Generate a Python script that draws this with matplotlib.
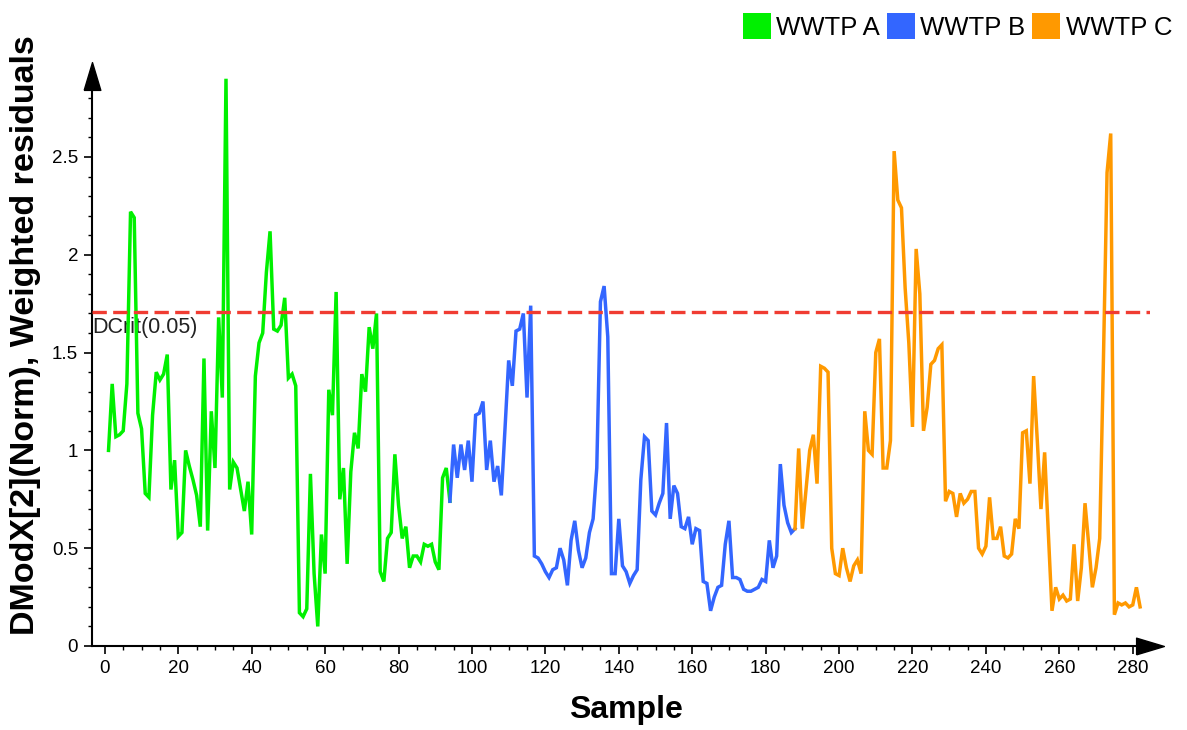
import numpy as np
import matplotlib
matplotlib.use("Agg")
import matplotlib.pyplot as plt
from matplotlib.patches import Patch
from matplotlib.path import Path
from matplotlib.ticker import MultipleLocator

plt.rcParams['font.family'] = ['Liberation Sans', 'DejaVu Sans']

# DModX values per plant, consecutive sample numbers
wwtp_a = [1.00, 1.34, 1.07, 1.08, 1.10, 1.34, 2.22, 2.19, 1.19, 1.11,
          0.78, 0.76, 1.18, 1.40, 1.36, 1.39, 1.49, 0.80, 0.95, 0.56,
          0.58, 1.00, 0.92, 0.85, 0.77, 0.61, 1.47, 0.59, 1.20, 0.91,
          1.68, 1.27, 2.90, 0.80, 0.94, 0.91, 0.80, 0.69, 0.84, 0.57,
          1.38, 1.55, 1.60, 1.91, 2.12, 1.62, 1.61, 1.64, 1.78, 1.37,
          1.39, 1.33, 0.17, 0.15, 0.19, 0.88, 0.37, 0.10, 0.57, 0.37,
          1.31, 1.18, 1.81, 0.75, 0.91, 0.42, 0.89, 1.09, 1.01, 1.39,
          1.30, 1.63, 1.52, 1.70, 0.38, 0.33, 0.55, 0.58, 0.98, 0.72,
          0.55, 0.61, 0.40, 0.46, 0.46, 0.43, 0.52, 0.51, 0.52, 0.43,
          0.39, 0.86, 0.91, 0.74]
wwtp_b = [1.03, 0.86, 1.03, 0.90, 1.05, 0.84, 1.18, 1.19, 1.25, 0.90,
          1.05, 0.84, 0.92, 0.77, 1.11, 1.46, 1.33, 1.61, 1.62, 1.70,
          1.27, 1.74, 0.46, 0.45, 0.42, 0.38, 0.35, 0.39, 0.40, 0.50,
          0.44, 0.31, 0.54, 0.64, 0.49, 0.40, 0.45, 0.58, 0.65, 0.91,
          1.76, 1.84, 1.58, 0.37, 0.37, 0.65, 0.41, 0.38, 0.32, 0.36,
          0.39, 0.85, 1.07, 1.05, 0.69, 0.67, 0.73, 0.78, 1.14, 0.65,
          0.82, 0.78, 0.61, 0.60, 0.66, 0.52, 0.60, 0.59, 0.33, 0.32,
          0.18, 0.25, 0.30, 0.31, 0.52, 0.64, 0.35, 0.35, 0.34, 0.29,
          0.28, 0.28, 0.29, 0.30, 0.34, 0.33, 0.54, 0.40, 0.46, 0.93,
          0.72, 0.63, 0.58, 0.60]
wwtp_c = [1.01, 0.60, 0.80, 1.00, 1.08, 0.83, 1.43, 1.42, 1.40, 0.50,
          0.37, 0.36, 0.50, 0.40, 0.33, 0.41, 0.44, 0.37, 1.20, 1.00,
          0.98, 1.50, 1.57, 0.91, 0.91, 1.05, 2.53, 2.28, 2.24, 1.83,
          1.55, 1.12, 2.03, 1.80, 1.10, 1.22, 1.44, 1.46, 1.52, 1.54,
          0.74, 0.79, 0.78, 0.66, 0.78, 0.73, 0.75, 0.79, 0.79, 0.50,
          0.47, 0.51, 0.76, 0.55, 0.55, 0.61, 0.46, 0.45, 0.47, 0.65,
          0.60, 1.09, 1.10, 0.83, 1.38, 1.05, 0.70, 0.99, 0.58, 0.18,
          0.30, 0.24, 0.26, 0.23, 0.24, 0.52, 0.23, 0.40, 0.73, 0.52,
          0.30, 0.40, 0.55, 1.45, 2.42, 2.62, 0.16, 0.22, 0.21, 0.22,
          0.20, 0.21, 0.30, 0.20]

series_names = ['WWTP A', 'WWTP B', 'WWTP C']
series_colors = ['#00f000', '#3366ff', '#ff9900']
d_crit = 1.71
d_crit_label = 'DCrit(0.05)'

W, H = 1187, 730
fig = plt.figure(figsize=(W / 100, H / 100), dpi=100)
ax = fig.add_axes([92 / W, 84 / H, (1150 - 92) / W, (646 - 76) / H])

# consecutive sample numbering, each block continues the previous one
series = [wwtp_a, wwtp_b, wwtp_c]
start = 1
prev_x, prev_y = None, None
for vals, col in zip(series, series_colors):
    x = np.arange(start, start + len(vals))
    y = np.asarray(vals)
    if prev_x is not None:
        x = np.concatenate([[prev_x], x])
        y = np.concatenate([[prev_y], y])
    ax.plot(x, y, color=col, lw=2.5, solid_joinstyle='miter', zorder=3)
    prev_x, prev_y = x[-1], y[-1]
    start += len(vals)

ax.axhline(d_crit, color='#f03c32', lw=2.4, dashes=(4.3, 1.9), zorder=4)
ax.text(-3.3, d_crit - 0.03, d_crit_label, ha='left', va='top',
        fontsize=15.5, color='#222222', zorder=2)

ax.set_xlim(-3.5, 284.7)
ax.set_ylim(0, 2.914)

ax.xaxis.set_major_locator(MultipleLocator(20))
ax.xaxis.set_minor_locator(MultipleLocator(5))
ax.yaxis.set_major_locator(MultipleLocator(0.5))
ax.yaxis.set_minor_locator(MultipleLocator(0.1))
ax.yaxis.set_major_formatter(plt.FuncFormatter(lambda v, p: f'{v:g}'))
ax.tick_params(axis='both', which='major', direction='out', length=6,
               width=1.2, labelsize=13.5, colors='black', pad=4)
ax.tick_params(axis='both', which='minor', direction='out', length=3,
               width=1.0)

for side in ('top', 'right'):
    ax.spines[side].set_visible(False)
for side in ('left', 'bottom'):
    ax.spines[side].set_linewidth(1.5)

# slender arrow heads at the ends of both axes
right_head = Path([(-1.0, -0.6), (1.0, 0.0), (-1.0, 0.6), (-1.0, -0.6)])
up_head = Path([(-0.6, -1.0), (0.0, 1.0), (0.6, -1.0), (-0.6, -1.0)])
ax.plot(1, 0, marker=right_head, color='black', markersize=20,
        transform=ax.transAxes, clip_on=False, zorder=5)
ax.plot(0, 1, marker=up_head, color='black', markersize=20,
        transform=ax.transAxes, clip_on=False, zorder=5)

fig.text(626 / W, 1 - 710 / H, 'Sample', fontsize=23, fontweight='bold',
         ha='center', va='center')
fig.text(26 / W, 1 - 335 / H, 'DModX[2](Norm), Weighted residuals',
         fontsize=24.5, fontweight='bold', rotation=90,
         ha='center', va='center')

handles = [Patch(facecolor=c, edgecolor='none', label=n)
           for n, c in zip(series_names, series_colors)]
fig.legend(handles=handles, loc='upper right',
           bbox_to_anchor=(1172 / W, 1 - 13 / H), ncol=3, frameon=False,
           fontsize=18.5, handlelength=1.09, handleheight=1.17,
           handletextpad=0.22, columnspacing=0.25, borderaxespad=0,
           borderpad=0)

fig.savefig('out.png', dpi=100)
